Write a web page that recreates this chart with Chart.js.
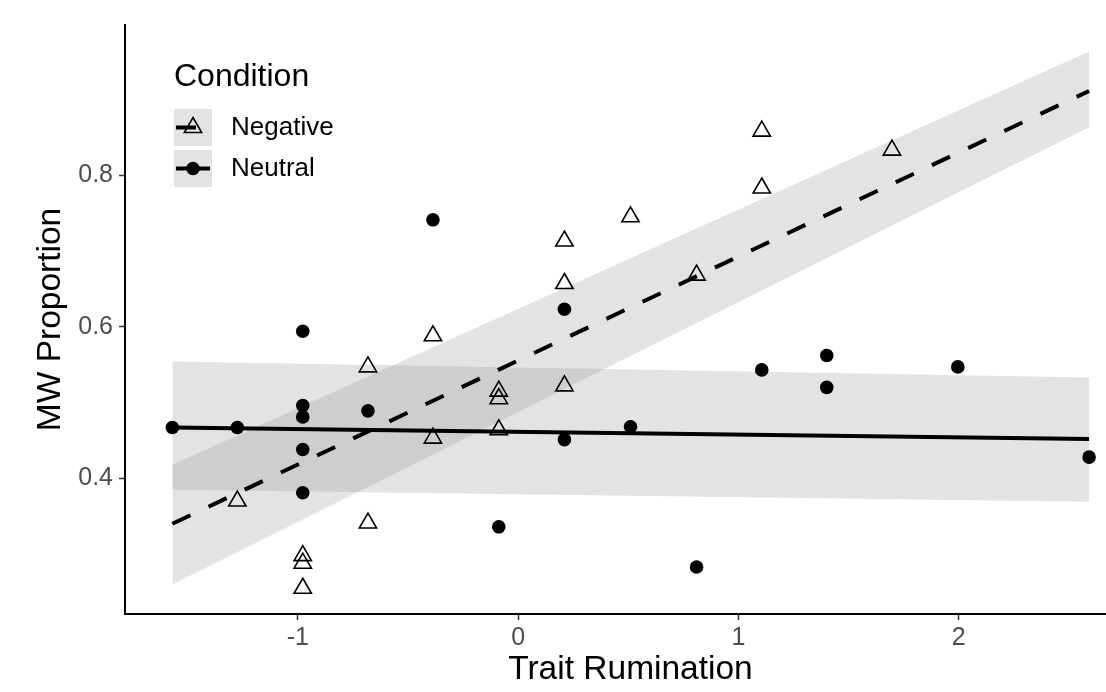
<!DOCTYPE html>
<html>
<head>
<meta charset="utf-8">
<script src="https://cdn.jsdelivr.net/npm/chart.js@4"></script>
<style>
  html, body { margin: 0; padding: 0; background: #fff; overflow: hidden; }
</style>
</head>
<body>
<canvas id="myChart" width="1141" height="692"></canvas>
<script>
// observed scores, Negative condition (triangles)
const negX = [-1.275, -0.978, -0.978, -0.978, -0.682, -0.682, -0.387, -0.387, -0.088, -0.088, -0.088,
              0.21, 0.21, 0.21, 0.51, 0.81, 1.106, 1.106, 1.697];
const negY = [0.370, 0.298, 0.288, 0.255, 0.341, 0.547, 0.588, 0.453, 0.515, 0.505, 0.464,
              0.713, 0.657, 0.522, 0.745, 0.668, 0.858, 0.783, 0.833];
// observed scores, Neutral condition (circles)
const neuX = [-1.57, -1.275, -0.978, -0.978, -0.978, -0.978, -0.978, -0.682, -0.387, -0.088,
              0.21, 0.21, 0.51, 0.81, 1.106, 1.401, 1.401, 1.996, 2.592];
const neuY = [0.467, 0.467, 0.594, 0.496, 0.481, 0.438, 0.381, 0.489, 0.741, 0.336,
              0.623, 0.451, 0.468, 0.283, 0.543, 0.562, 0.520, 0.547, 0.428];

// fitted lines + confidence bands (ends of the range)
const fitX = [-1.57, 2.592];
const negFit = [0.340, 0.911];
const negLo = [0.260, 0.863];
const negHi = [0.418, 0.963];
const neuFit = [0.467, 0.452];
const neuLo = [0.385, 0.369];
const neuHi = [0.554, 0.533];

const xTicks = [-1, 0, 1, 2];
const yTicks = [0.4, 0.6, 0.8];
const legendTitle = 'Condition';
const legendLabels = ['Negative', 'Neutral'];

const FONT = '"Liberation Sans", Arial, Helvetica, sans-serif';
const ribbonFill = 'rgba(153,153,153,0.27)';
Chart.defaults.font.family = FONT;

function pts(xs, ys) {
  return xs.map((x, i) => ({ x: x, y: ys[i] }));
}

function lineSet(label, ys, opts) {
  return Object.assign({
    label: label,
    data: pts(fitX, ys),
    showLine: true,
    pointRadius: 0,
    pointHoverRadius: 0,
    borderColor: '#000',
    borderWidth: 4,
    fill: false,
    order: 1,
  }, opts);
}

function ribbon(label, ys, fillTo) {
  return {
    label: label,
    data: pts(fitX, ys),
    showLine: true,
    pointRadius: 0,
    borderWidth: 0,
    borderColor: 'rgba(0,0,0,0)',
    backgroundColor: ribbonFill,
    fill: fillTo,
    order: 2,
  };
}

function drawTriangle(ctx, x, y, r) {
  ctx.beginPath();
  for (let k = 0; k < 3; k++) {
    const a = k * 2 * Math.PI / 3;
    const px = x + Math.sin(a) * r, py = y - Math.cos(a) * r;
    if (k === 0) ctx.moveTo(px, py); else ctx.lineTo(px, py);
  }
  ctx.closePath();
}

const legendBox = {
  id: 'legendBox',
  afterDraw(chart) {
    const ctx = chart.ctx;
    ctx.save();
    ctx.fillStyle = '#000';
    ctx.font = '32px ' + FONT;
    ctx.textBaseline = 'alphabetic';
    ctx.textAlign = 'left';
    ctx.fillText(legendTitle, 174, 86);
    legendLabels.forEach((lab, i) => {
      const top = 109 + i * 41;
      const cy = top + 18.5, cx = 193;
      ctx.fillStyle = ribbonFill;
      ctx.fillRect(174, top, 38, 37);
      ctx.strokeStyle = '#000';
      ctx.lineWidth = 4;
      ctx.setLineDash(i === 0 ? [20, 20] : []);
      ctx.beginPath();
      ctx.moveTo(176, cy);
      ctx.lineTo(210, cy);
      ctx.stroke();
      ctx.setLineDash([]);
      if (i === 0) {
        ctx.lineWidth = 1.6;
        drawTriangle(ctx, cx, cy, 10);
        ctx.stroke();
      } else {
        ctx.fillStyle = '#000';
        ctx.beginPath();
        ctx.arc(cx, cy, 6.8, 0, Math.PI * 2);
        ctx.fill();
      }
      ctx.fillStyle = '#000';
      ctx.font = '26px ' + FONT;
      ctx.textBaseline = 'middle';
      ctx.fillText(lab, 231, cy);
    });
    ctx.restore();
  }
};

const data = {
  datasets: [
    {
      label: 'Negative',
      data: pts(negX, negY),
      pointStyle: 'triangle',
      pointRadius: 10,
      pointHoverRadius: 10,
      pointBorderWidth: 1.6,
      borderColor: '#000',
      backgroundColor: 'rgba(0,0,0,0)',
      order: 0,
    },
    {
      label: 'Neutral',
      data: pts(neuX, neuY),
      pointStyle: 'circle',
      pointRadius: 6.8,
      pointHoverRadius: 6.8,
      pointBorderWidth: 0,
      borderColor: '#000',
      backgroundColor: '#000',
      order: 0,
    },
    lineSet('Negative fit', negFit, { borderDash: [20, 20] }),
    lineSet('Neutral fit', neuFit, {}),
    ribbon('Negative hi', negHi, '+1'),
    ribbon('Negative lo', negLo, false),
    ribbon('Neutral hi', neuHi, '+1'),
    ribbon('Neutral lo', neuLo, false),
  ],
};

const config = {
  type: 'scatter',
  data: data,
  plugins: [legendBox],
  options: {
    responsive: false,
    animation: false,
    events: [],
    layout: { autoPadding: false, padding: { top: 25, right: 5, left: 0, bottom: 0 } },
    plugins: {
      legend: { display: false },
      tooltip: { enabled: false },
    },
    scales: {
      x: {
        type: 'linear',
        min: -1.785,
        max: 2.805,
        afterBuildTicks: (s) => { s.ticks = xTicks.map(v => ({ value: v })); },
        afterFit: (s) => { s.height = 78; },
        border: { display: true, color: '#000', width: 2 },
        grid: { drawOnChartArea: false, drawTicks: true, tickLength: 6, tickColor: '#333', tickWidth: 1.5 },
        ticks: {
          color: '#4d4d4d',
          font: { size: 25 },
          padding: 3,
          callback: (v) => String(v),
        },
        title: {
          display: true,
          text: 'Trait Rumination',
          color: '#000',
          font: { size: 33.5, lineHeight: 1.2 },
          padding: { top: 0, bottom: 1.8 },
        },
      },
      y: {
        type: 'linear',
        min: 0.221,
        max: 0.998,
        afterBuildTicks: (s) => { s.ticks = yTicks.map(v => ({ value: v })); },
        afterFit: (s) => { s.width = 125; },
        border: { display: true, color: '#000', width: 2 },
        grid: { drawOnChartArea: false, drawTicks: true, tickLength: 6, tickColor: '#333', tickWidth: 1.5 },
        ticks: {
          color: '#4d4d4d',
          font: { size: 25 },
          padding: 6,
          callback: (v) => v.toFixed(1),
        },
        title: {
          display: true,
          text: 'MW Proportion',
          color: '#000',
          font: { size: 33.5, lineHeight: 1.2 },
          padding: { top: 31, bottom: 0 },
        },
      },
    },
  },
};

var myChart = new Chart(document.getElementById('myChart'), config);
</script>
</body>
</html>
